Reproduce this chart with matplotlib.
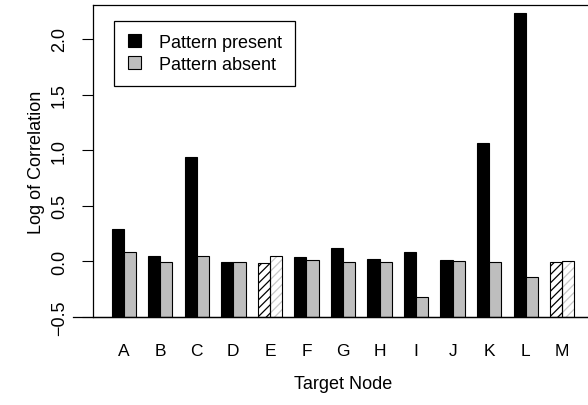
import numpy as np
import matplotlib
matplotlib.use("Agg")
import matplotlib.pyplot as plt
from matplotlib.patches import Patch

plt.rcParams['font.family'] = ['Liberation Sans', 'DejaVu Sans']
plt.rcParams['hatch.linewidth'] = 0.9

nodes = ['A', 'B', 'C', 'D', 'E', 'F', 'G', 'H', 'I', 'J', 'K', 'L', 'M']
present = [0.29, 0.05, 0.934, -0.006, -0.012, 0.039, 0.117, 0.021, 0.081, 0.009, 1.063, 2.237, -0.01]
absent = [0.081, -0.01, 0.045, -0.01, 0.045, 0.009, -0.01, -0.009, -0.318, 0.003, -0.003, -0.141, 0.0]
hatched = ['E', 'M']
yticks = [-0.5, 0.0, 0.5, 1.0, 1.5, 2.0]

base = -0.5
grey = '#BEBEBE'

fig = plt.figure(figsize=(5.88, 4.06), dpi=100)
ax = fig.add_axes([93/588, 88/406, 500/588, 312/406])

idx = np.arange(len(nodes))
x_pres = 1 + 3*idx
x_abs = 2 + 3*idx
h_pres = np.array(present) - base
h_abs = np.array(absent) - base

for i, n in enumerate(nodes):
    if n in hatched:
        ax.bar(x_pres[i], h_pres[i], width=1, bottom=base, align='edge',
               color='white', edgecolor='black', hatch='////', linewidth=0)
        ax.bar(x_abs[i], h_abs[i], width=1, bottom=base, align='edge',
               color='white', edgecolor='#C8C8C8', hatch='////', linewidth=0)
        ax.bar(x_pres[i], h_pres[i], width=1, bottom=base, align='edge',
               fill=False, edgecolor='black', linewidth=0.8)
        ax.bar(x_abs[i], h_abs[i], width=1, bottom=base, align='edge',
               fill=False, edgecolor='black', linewidth=0.8)
    else:
        ax.bar(x_pres[i], h_pres[i], width=1, bottom=base, align='edge',
               color='black', edgecolor='black', linewidth=0.8)
        ax.bar(x_abs[i], h_abs[i], width=1, bottom=base, align='edge',
               color=grey, edgecolor='black', linewidth=0.8)

ax.set_xlim(-0.52, 40.52)
ax.set_ylim(-0.5, 2.305)

ax.spines['right'].set_visible(False)
for s in ['left', 'top', 'bottom']:
    ax.spines[s].set_linewidth(0.9)
# axis line below extends a little past the left spine
ax.axhline(-0.5, xmin=-0.04, xmax=1, color='black', lw=0.9, clip_on=False)

ax.set_yticks(yticks)
ax.set_yticklabels([('%.1f' % v).replace('-', '\u2212') for v in yticks],
                   rotation=90, va='center')
ax.tick_params(axis='y', length=8, width=0.8, direction='out', pad=10, labelsize=13)

ax.set_xticks(x_abs)
ax.set_xticklabels(nodes)
ax.tick_params(axis='x', length=0, pad=19, labelsize=12.5)

ax.set_ylabel('Log of Correlation', fontsize=13)
ax.yaxis.set_label_coords(-0.096, 0.5)
ax.set_xlabel('Target Node', fontsize=13)
ax.xaxis.set_label_coords(0.5, -0.185)

handles = [Patch(facecolor='black', edgecolor='black', linewidth=0.8),
           Patch(facecolor=grey, edgecolor='black', linewidth=0.8)]
leg = ax.legend(handles, ['Pattern present', 'Pattern absent'], loc='upper left',
                bbox_to_anchor=(0.042, 0.950), borderaxespad=0, fontsize=13,
                handlelength=0.72, handleheight=0.72, handletextpad=1.0,
                labelspacing=0.25, borderpad=0.75, fancybox=False, framealpha=1,
                edgecolor='black')
leg.get_frame().set_linewidth(0.9)

fig.savefig('out.png', dpi=100)
